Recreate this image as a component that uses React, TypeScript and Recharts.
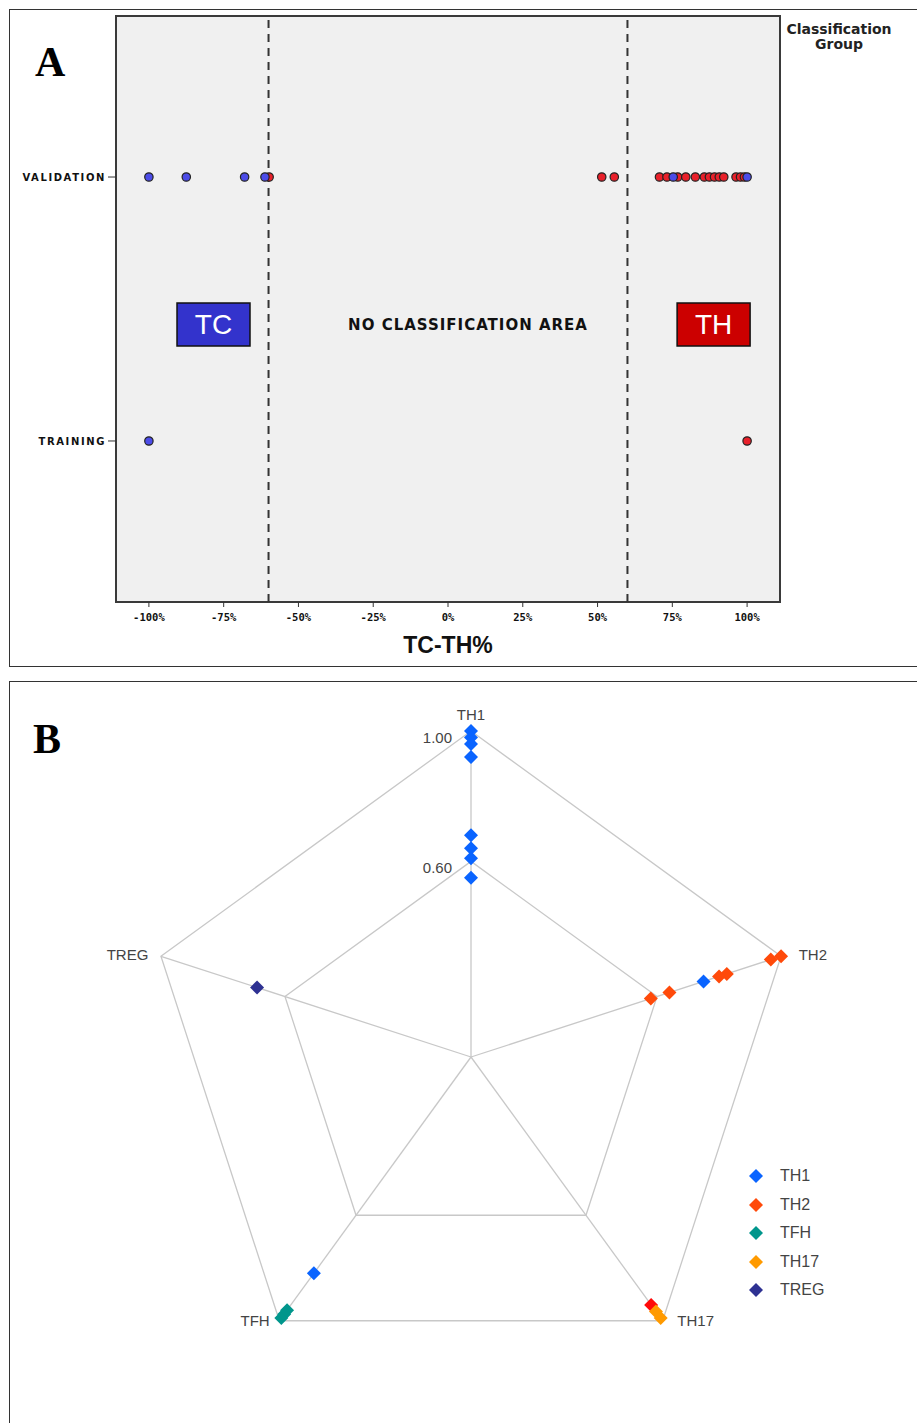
import React from 'react';
import {
  ScatterChart,
  Scatter,
  XAxis,
  YAxis,
  ReferenceLine,
  ReferenceArea,
  RadarChart,
  Radar,
  PolarGrid,
  PolarAngleAxis,
  PolarRadiusAxis,
  Legend,
} from 'recharts';

// ---- Panel A: TC-TH% by classification group ----
const xTicks = [-100, -75, -50, -25, 0, 25, 50, 75, 100];
const yTicks = [1, 2];
const yLabels: Record<number, string> = { 1: 'TRAINING', 2: 'VALIDATION' };
const cutoffs = [-60, 60];

const validationTC = [-100, -87.5, -68, -61.2, 75.3, 100];
const validationTH = [
  -59.8, 51.4, 55.6, 70.7, 73.2, 76.8, 79.5, 82.7, 85.7, 87.4, 89.1, 90.7, 92.2, 96.3, 97.8, 99.1,
];
const trainingTC = [-100];
const trainingTH = [100];

// ---- Panel B: radar of subset scores ----
const subsets = ['TH1', 'TH2', 'TH17', 'TFH', 'TREG'];
const radarTicks = [0.6, 1];

const th1Points: Record<string, number[]> = {
  TH1: [1.0, 0.98, 0.96, 0.92, 0.68, 0.64, 0.61, 0.55],
  TH2: [0.75],
  TFH: [0.82],
};
const th2Points: Record<string, number[]> = {
  TH2: [1.0, 0.967, 0.825, 0.8, 0.64, 0.58],
};
const tfhPoints: Record<string, number[]> = { TFH: [0.99, 0.975, 0.96] };
const th17Points: Record<string, number[]> = { TH17: [0.99, 0.965] };
const tregPoints: Record<string, number[]> = { TREG: [0.69] };
const th2OnTh17Points: Record<string, number[]> = { TH17: [0.94] };

const groups = [
  { key: 'th2b', name: 'TH2b', color: '#ff0a0a', points: th2OnTh17Points },
  { key: 'th2', name: 'TH2', color: '#ff4a0a', points: th2Points },
  { key: 'th1', name: 'TH1', color: '#0a64ff', points: th1Points },
  { key: 'tfh', name: 'TFH', color: '#00968c', points: tfhPoints },
  { key: 'th17', name: 'TH17', color: '#ff9a00', points: th17Points },
  { key: 'treg', name: 'TREG', color: '#2e3192', points: tregPoints },
];
const legendOrder = ['TH1', 'TH2', 'TFH', 'TH17', 'TREG'];

const radarData = subsets.map((axis) => {
  const row: Record<string, string | number> = { axis };
  groups.forEach((g) => {
    (g.points[axis] || []).forEach((v, i) => {
      row[`${g.key}_${i}`] = v;
    });
  });
  return row;
});

const radarSeries = groups.flatMap((g) => {
  const n = Math.max(...Object.values(g.points).map((a) => a.length));
  return Array.from({ length: n }, (_, i) => ({ dataKey: `${g.key}_${i}`, color: g.color }));
});

const pickValue = (props: any) => {
  const p = props.payload;
  const candidates = [
    props.value,
    p && p.value,
    p && p[props.dataKey],
    p && p.payload && p.payload[props.dataKey],
  ];
  return candidates.find((c) => c !== undefined);
};

const diamondDot = (color: string, s: number) => (props: any) => {
  const { cx, cy } = props;
  const v = pickValue(props);
  if (typeof v !== 'number' || !Number.isFinite(cx) || !Number.isFinite(cy)) {
    return <g key={props.key} />;
  }
  return (
    <path
      key={props.key}
      d={`M${cx},${cy - s}L${cx + s},${cy}L${cx},${cy + s}L${cx - s},${cy}Z`}
      fill={color}
    />
  );
};

const circleDot = (color: string) => (props: any) => (
  <circle cx={props.cx} cy={props.cy} r={4.2} fill={color} stroke="#222" strokeWidth={1.2} />
);

const angleTick = (props: any) => {
  const { x, y, payload, textAnchor, cy } = props;
  let dx = 0;
  let dy = 0;
  if (textAnchor === 'middle') dy = -9;
  else if (textAnchor === 'start') dx = 10;
  else dx = -5;
  if (textAnchor !== 'middle') dy = y > cy ? -7 : 1;
  return (
    <text
      x={x + dx}
      y={y + dy}
      textAnchor={textAnchor}
      dominantBaseline="central"
      fill="#444"
      fontSize={15}
      fontFamily="Liberation Sans, Arial, sans-serif"
    >
      {payload.value}
    </text>
  );
};

const radiusTick = (props: any) => (
  <text
    x={props.x - 19}
    y={props.y + 6}
    textAnchor="end"
    dominantBaseline="central"
    fill="#444"
    fontSize={15}
    fontFamily="Liberation Sans, Arial, sans-serif"
  >
    {Number(props.payload.value).toFixed(2)}
  </text>
);

const renderLegend = () => (
  <div>
    {legendOrder.map((name) => {
      const g = groups.find((x) => x.name === name)!;
      return (
        <div key={name} style={{ display: 'flex', alignItems: 'center', height: 28.5 }}>
          <svg width={16} height={16}>
            <path d="M8,1L15,8L8,15L1,8Z" fill={g.color} />
          </svg>
          <span
            style={{
              marginLeft: 16,
              fontSize: 16,
              color: '#444',
              fontFamily: 'Liberation Sans, Arial, sans-serif',
            }}
          >
            {name}
          </span>
        </div>
      );
    })}
  </div>
);

const monoTick = {
  fontSize: 10.5,
  fill: '#111',
  fontWeight: 700,
  fontFamily: 'DejaVu Sans Mono, monospace',
  dy: 5,
};

function PanelA() {
  return (
    <ScatterChart width={917} height={666} margin={{ top: 16, right: 137, bottom: 24, left: 16 }}>
      <ReferenceArea
        x1={-111}
        x2={111}
        y1={0.39}
        y2={2.61}
        fill="#f0f0f0"
        fillOpacity={1}
        stroke="#3a3a3a"
        strokeWidth={2}
      />
      <XAxis
        type="number"
        dataKey="x"
        domain={[-111, 111]}
        ticks={xTicks}
        interval={0}
        allowDataOverflow
        axisLine={false}
        tickSize={5}
        tickLine={{ stroke: '#333' }}
        tick={monoTick}
        tickFormatter={(v) => `${v}%`}
        height={40}
      />
      <YAxis
        type="number"
        dataKey="y"
        domain={[0.39, 2.61]}
        ticks={yTicks}
        allowDataOverflow
        axisLine={false}
        tickSize={8}
        tickLine={{ stroke: '#333' }}
        tick={{ fontSize: 10, fill: '#111', fontWeight: 700, fontFamily: 'DejaVu Sans, sans-serif', letterSpacing: 1.6 }}
        tickFormatter={(v) => yLabels[v] || ''}
        width={100}
      />
      {cutoffs.map((c) => (
        <ReferenceLine key={c} x={c} stroke="#333" strokeWidth={2} strokeDasharray="8 6" />
      ))}
      <ReferenceArea
        x1={-90.6}
        x2={-66.2}
        y1={1.36}
        y2={1.523}
        fill="#3333cc"
        fillOpacity={1}
        stroke="#111"
        strokeWidth={1.5}
        label={{ value: 'TC', position: 'center', fill: '#fff', fontSize: 28, fontFamily: 'Liberation Sans, Arial, sans-serif' }}
      />
      <ReferenceArea
        x1={76.6}
        x2={101}
        y1={1.36}
        y2={1.523}
        fill="#cc0000"
        fillOpacity={1}
        stroke="#111"
        strokeWidth={1.5}
        label={{ value: 'TH', position: 'center', fill: '#fff', fontSize: 28, fontFamily: 'Liberation Sans, Arial, sans-serif' }}
      />
      <ReferenceArea
        x1={-20}
        x2={33.4}
        y1={1.36}
        y2={1.523}
        fillOpacity={0}
        strokeOpacity={0}
        label={{
          value: 'NO CLASSIFICATION AREA',
          position: 'center',
          fill: '#111',
          fontSize: 15,
          fontWeight: 700,
          letterSpacing: 1,
          fontFamily: 'DejaVu Sans, sans-serif',
        }}
      />
      <Scatter
        data={validationTH.map((x) => ({ x, y: 2 }))}
        shape={circleDot('#e8202a')}
        isAnimationActive={false}
      />
      <Scatter
        data={validationTC.map((x) => ({ x, y: 2 }))}
        shape={circleDot('#4c4ce8')}
        isAnimationActive={false}
      />
      <Scatter
        data={trainingTH.map((x) => ({ x, y: 1 }))}
        shape={circleDot('#e8202a')}
        isAnimationActive={false}
      />
      <Scatter
        data={trainingTC.map((x) => ({ x, y: 1 }))}
        shape={circleDot('#4c4ce8')}
        isAnimationActive={false}
      />
    </ScatterChart>
  );
}

function PanelB() {
  return (
    <RadarChart
      width={917}
      height={742}
      data={radarData}
      cx={471}
      cy={376}
      outerRadius={326}
      margin={{ top: 0, right: 0, bottom: 0, left: 0 }}
    >
      <PolarGrid gridType="polygon" stroke="#c8c8c8" strokeWidth={1.3} />
      <PolarAngleAxis dataKey="axis" tickLine={false} axisLine={false} tick={angleTick} />
      <PolarRadiusAxis
        angle={90}
        type="number"
        domain={[0, 1]}
        ticks={radarTicks}
        axisLine={false}
        tickLine={false}
        tick={radiusTick}
      />
      {radarSeries.map((s) => (
        <Radar
          key={s.dataKey}
          dataKey={s.dataKey}
          stroke="none"
          fill="none"
          dot={diamondDot(s.color, 7)}
          isAnimationActive={false}
        />
      ))}
      <Legend
        layout="vertical"
        content={renderLegend}
        wrapperStyle={{ left: 748, top: 481, width: 120, bottom: 'auto', right: 'auto' }}
      />
    </RadarChart>
  );
}

export default function App() {
  return (
    <div style={{ position: 'absolute', left: 0, top: 0, width: 917, height: 1423, background: '#fff', overflow: 'hidden' }}>
      <div style={{ position: 'absolute', left: 9, top: 9, width: 910, height: 658, border: '1.5px solid #333', boxSizing: 'border-box' }} />
      <div style={{ position: 'absolute', left: 9, top: 681, width: 910, height: 760, border: '1.5px solid #333', boxSizing: 'border-box' }} />

      <div style={{ position: 'absolute', left: 0, top: 0 }}>
        <PanelA />
      </div>
      <div style={{ position: 'absolute', left: 35, top: 38, fontFamily: 'Liberation Serif, Times New Roman, serif', fontWeight: 700, fontSize: 42, lineHeight: '48px' }}>
        A
      </div>
      <div
        style={{
          position: 'absolute',
          left: 780,
          top: 22,
          width: 118,
          textAlign: 'center',
          fontFamily: 'DejaVu Sans, sans-serif',
          fontWeight: 700,
          fontSize: 14,
          lineHeight: '15px',
          color: '#222',
        }}
      >
        Classification
        <br />
        Group
      </div>
      <div
        style={{
          position: 'absolute',
          left: 348,
          top: 631,
          width: 200,
          textAlign: 'center',
          fontFamily: 'Liberation Sans, Arial, sans-serif',
          fontWeight: 700,
          fontSize: 23,
          lineHeight: '28px',
          color: '#111',
        }}
      >
        TC-TH%
      </div>

      <div style={{ position: 'absolute', left: 0, top: 681 }}>
        <PanelB />
      </div>
      <div style={{ position: 'absolute', left: 33, top: 715, fontFamily: 'Liberation Serif, Times New Roman, serif', fontWeight: 700, fontSize: 42, lineHeight: '48px' }}>
        B
      </div>
    </div>
  );
}
